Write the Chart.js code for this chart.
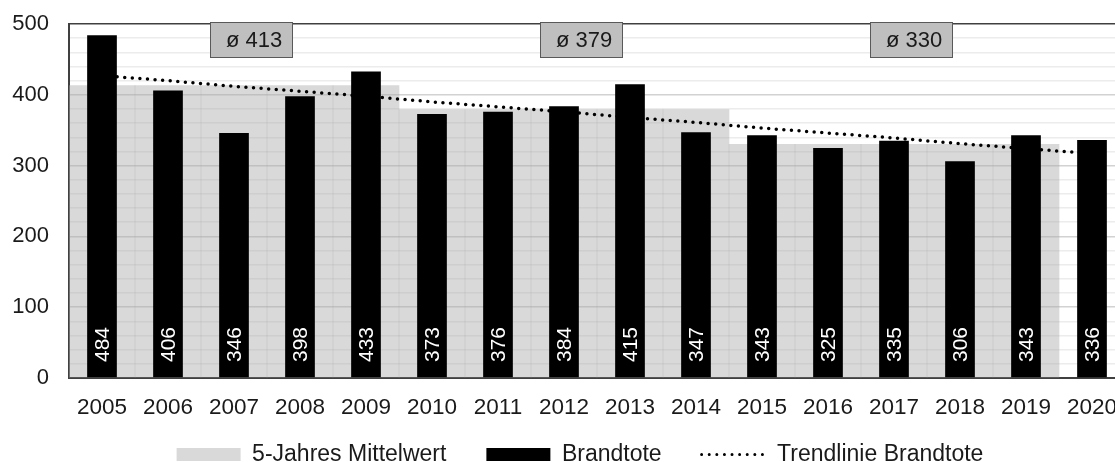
<!DOCTYPE html>
<html>
<head>
<meta charset="utf-8">
<script src="https://cdn.jsdelivr.net/npm/chart.js@4/dist/chart.umd.min.js"></script>
<style>
  html, body { margin: 0; padding: 0; background: #fff; overflow: hidden; }
  #wrap { position: relative; width: 1125px; height: 491px; }
</style>
</head>
<body>
<div id="wrap"><canvas id="c"></canvas></div>
<script>
const years = ['2005','2006','2007','2008','2009','2010','2011','2012','2013','2014','2015','2016','2017','2018','2019','2020'];
const brandtote = [484, 406, 346, 398, 433, 373, 376, 384, 415, 347, 343, 325, 335, 306, 343, 336];
const mittelwert = [413, 413, 413, 413, 413, 379, 379, 379, 379, 379, 330, 330, 330, 330, 330, null];
const trend = [427, 420, 412, 405, 398, 390, 383, 376, 368, 361, 353, 346, 339, 331, 324, 317];
const avgLabels = ['ø 413', 'ø 379', 'ø 330'];
const avgIndex = [2, 7, 12];
const yTicks = [0, 100, 200, 300, 400, 500];

const FONT = '"Liberation Sans", Arial, sans-serif';
const TXT = '#1a1a1a';

const valueLabels = {
  id: 'valueLabels',
  afterDatasetsDraw(chart) {
    const meta = chart.getDatasetMeta(1);
    const ctx = chart.ctx;
    const bottom = chart.chartArea.bottom;
    ctx.save();
    ctx.fillStyle = '#ffffff';
    ctx.font = '21px ' + FONT;
    ctx.textAlign = 'left';
    ctx.textBaseline = 'middle';
    meta.data.forEach((el, i) => {
      ctx.save();
      ctx.translate(el.x + 1, bottom - 16);
      ctx.rotate(-Math.PI / 2);
      ctx.fillText(String(brandtote[i]), 0, 0);
      ctx.restore();
    });
    ctx.restore();
  }
};

const avgBoxes = {
  id: 'avgBoxes',
  afterDraw(chart) {
    const ctx = chart.ctx;
    const xs = chart.scales.x;
    const top = chart.chartArea.top;
    const cw = xs.getPixelForValue(1) - xs.getPixelForValue(0);
    ctx.save();
    avgLabels.forEach((t, k) => {
      const cx = xs.getPixelForValue(avgIndex[k]) + cw * 0.26;
      const w = 82, h = 35;
      const x0 = Math.round(cx - w / 2) + 0.5, y0 = Math.round(top - 2) + 0.5;
      ctx.fillStyle = '#bfbfbf';
      ctx.fillRect(x0, y0, w, h);
      ctx.strokeStyle = '#595959';
      ctx.lineWidth = 1;
      ctx.strokeRect(x0, y0, w, h);
      ctx.fillStyle = TXT;
      ctx.font = '22px ' + FONT;
      ctx.textAlign = 'center';
      ctx.textBaseline = 'middle';
      ctx.fillText(t, cx + 3, y0 + h / 2 + 1);
    });
    ctx.restore();
  }
};

const legendPlace = {
  id: 'legendPlace',
  afterLayout(chart) {
    const lg = chart.legend;
    if (!lg) return;
    const h = lg.bottom - lg.top;
    lg.left = 35;
    lg.right = 1125;
    lg.top = 403;
    lg.bottom = 403 + h;
  }
};

new Chart(document.getElementById('c'), {
  type: 'bar',
  data: {
    labels: years,
    datasets: [
      {
        label: '5-Jahres Mittelwert',
        data: mittelwert,
        backgroundColor: 'rgba(170,170,170,0.45)',
        borderWidth: 0,
        barPercentage: 1,
        categoryPercentage: 1,
        grouped: false,
        order: 3
      },
      {
        label: 'Brandtote',
        data: brandtote,
        backgroundColor: '#000000',
        borderWidth: 0,
        barPercentage: 0.45,
        categoryPercentage: 1,
        grouped: false,
        order: 1
      },
      {
        type: 'line',
        label: 'Trendlinie Brandtote',
        data: trend,
        borderColor: '#000000',
        borderWidth: 3.5,
        borderDash: [0, 7.6],
        borderCapStyle: 'round',
        pointRadius: 0,
        fill: false,
        tension: 0,
        order: 2
      }
    ]
  },
  options: {
    responsive: true,
    maintainAspectRatio: false,
    animation: false,
    layout: { padding: { left: 0, right: 0, top: 24, bottom: 0 } },
    plugins: {
      tooltip: { enabled: false },
      legend: {
        position: 'bottom',
        labels: {
          usePointStyle: true,
          pointStyleWidth: 64,
          boxHeight: 13,
          padding: 40,
          color: TXT,
          font: { family: FONT, size: 23 },
          generateLabels() {
            return [
              { text: '5-Jahres Mittelwert', pointStyle: 'rect', fillStyle: '#d9d9d9', strokeStyle: '#d9d9d9', lineWidth: 0, datasetIndex: 0, fontColor: TXT },
              { text: 'Brandtote', pointStyle: 'rect', fillStyle: '#000000', strokeStyle: '#000000', lineWidth: 0, datasetIndex: 1, fontColor: TXT },
              { text: 'Trendlinie Brandtote', pointStyle: 'line', fillStyle: '#000000', strokeStyle: '#000000', lineWidth: 3, lineDash: [0, 7.6], lineCap: 'round', datasetIndex: 2, fontColor: TXT }
            ];
          }
        }
      }
    },
    scales: {
      x: {
        offset: true,
        grid: { display: false, drawTicks: false },
        border: { display: true, color: '#404040', width: 2 },
        ticks: { color: TXT, font: { family: FONT, size: 22.5 }, padding: 16, maxRotation: 0, autoSkip: false },
        afterFit(s) { s.height = 40; s.paddingLeft = 0; s.paddingRight = 0; }
      },
      y: {
        min: 0,
        max: 500,
        grid: {
          drawTicks: false,
          color(c) {
            const v = c.tick.value;
            if (v === 500) return '#404040';
            return v % 100 === 0 ? '#d2d2d2' : '#ececec';
          },
          lineWidth: 1.5
        },
        border: { display: true, color: '#404040', width: 2 },
        ticks: {
          stepSize: 20,
          autoSkip: false,
          padding: 20,
          color: TXT,
          font: { family: FONT, size: 22 },
          callback(v) { return yTicks.includes(v) ? String(v) : ''; }
        },
        afterFit(s) { s.width = 69; s.paddingTop = 0; s.paddingBottom = 0; }
      }
    }
  },
  plugins: [valueLabels, avgBoxes, legendPlace]
});
</script>
</body>
</html>
